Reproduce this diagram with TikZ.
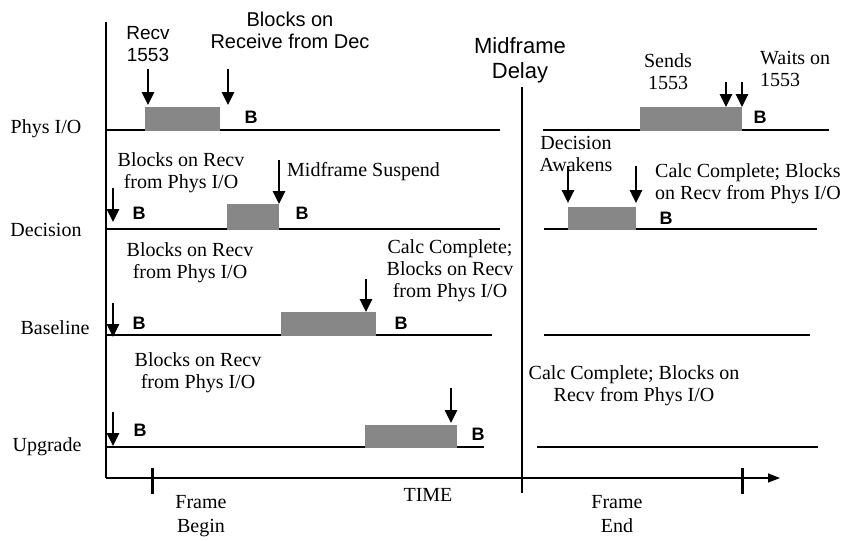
\documentclass[tikz,border=0pt]{standalone}
\usepackage{fontspec}
\setmainfont{Liberation Serif}
\setsansfont{Liberation Sans}
\usetikzlibrary{arrows.meta}
\begin{document}
\begin{tikzpicture}[x=1pt,y=-1pt,
  txt/.style={inner sep=0pt,align=center,font=\fontsize{20}{22}\selectfont},
  stxt/.style={inner sep=0pt,align=center,font=\sffamily\fontsize{20}{22}\selectfont},
  blk/.style={inner sep=0pt,font=\sffamily\bfseries\fontsize{18}{18}\selectfont},
  rowlbl/.style={inner sep=0pt,anchor=base,font=\fontsize{20}{22}\selectfont},
  tl/.style={line width=1.5pt},
  run/.style={fill=black!47,draw=none},
  evt/.style={line width=2.8pt,-{Triangle[length=13pt,width=12pt]}},
  tick/.style={line width=3pt}]
\path[use as bounding box] (0,0) rectangle (844,541);

% axes
\draw[tl] (106,22) -- (106,478);
\draw[tl,-{Triangle[length=12pt,width=9pt]}] (106,478) -- (780,478);
\draw[tick] (152,468) -- (152,494);
\draw[tick] (742,468) -- (742,494);
\draw[tl] (522,87) -- (522,493);

% row labels
\node[rowlbl] (lphys) at (46,133) {Phys I/O};
\node[rowlbl] (ldec) at (46,236) {Decision};
\node[rowlbl] (lbase) at (55,334) {Baseline};
\node[rowlbl] (lupg) at (47,451) {Upgrade};

% ---------- Phys I/O ----------
\draw[tl] (106,130) -- (500,130);
\draw[tl] (543,130) -- (640,130);
\draw[tl] (742,130) -- (829,130);
\fill[run] (145,107) rectangle (220,130.75);
\fill[run] (640,107) rectangle (742,130.75);
\draw[evt] (148,69) -- (148,105);
\draw[evt] (228,69) -- (228,105);
\draw[evt] (726,82) -- (726,107);
\draw[evt] (742,82) -- (742,107);
\node[blk] (bp1) at (251,117) {B};
\node[blk] (bp2) at (760,117) {B};
\node[stxt,font=\sffamily\fontsize{19}{22}\selectfont] (recv) at (148,44) {Recv\\1553};
\node[stxt] (blkdec) at (290,30) {Blocks on\\Receive from Dec};
\node[stxt,font=\sffamily\fontsize{22}{25}\selectfont] (mid) at (520,60) {Midframe\\Delay};
\node[txt] (sends) at (668,72) {Sends\\1553};
\node[txt,align=left,anchor=west] (waits) at (760,69) {Waits on\\1553};

% ---------- Decision ----------
\draw[tl] (106,229) -- (500,229);
\draw[tl] (544,229) -- (817,229);
\fill[run] (227,204) rectangle (279,229.75);
\fill[run] (568,207) rectangle (636,229.75);
\draw[evt] (113,188) -- (113,222);
\draw[evt] (279,160) -- (279,204);
\draw[evt] (568,166) -- (568,203);
\draw[evt] (636,166) -- (636,203);
\node[blk] (bd1) at (139,213) {B};
\node[blk] (bd2) at (302,213) {B};
\node[blk] (bd3) at (666,218) {B};
\node[txt] (dtxt1) at (181,173) {Blocks on Recv\\from Phys I/O};
\node[txt,anchor=west] (dsusp) at (287,172) {Midframe Suspend};
\node[txt] (dwake) at (576,154) {Decision\\Awakens};
\node[txt,align=left,anchor=west] (dcalc) at (655,184) {Calc Complete; Blocks\\on Recv from Phys I/O};

% ---------- Baseline ----------
\draw[tl] (106,335) -- (492,335);
\draw[tl] (544,335) -- (810,335);
\fill[run] (281,312) rectangle (376,335.75);
\draw[evt] (113,303) -- (113,337);
\draw[evt] (366,279) -- (366,312);
\node[blk] (bb1) at (139,323) {B};
\node[blk] (bb2) at (401,323) {B};
\node[txt] (btxt1) at (190,263) {Blocks on Recv\\from Phys I/O};
\node[txt] (btxt2) at (450,271) {Calc Complete;\\Blocks on Recv\\from Phys I/O};

% ---------- Upgrade ----------
\draw[tl] (106,447) -- (365,447);
\draw[tl] (453,447) -- (484,447);
\draw[tl] (537,447) -- (818,447);
\fill[run] (365,425) rectangle (457,447.75);
\draw[evt] (113,412) -- (113,446);
\draw[evt] (451,388) -- (451,423);
\node[blk] (bu1) at (140,430) {B};
\node[blk] (bu2) at (478,434) {B};
\node[txt] (utxt1) at (198,373) {Blocks on Recv\\from Phys I/O};
\node[txt] (utxt2) at (634,386) {Calc Complete; Blocks on\\Recv from Phys I/O};

% time axis labels
\node[txt,font=\fontsize{20}{24}\selectfont] (fbeg) at (201,516) {Frame\\Begin};
\node[txt] (time) at (428,495) {TIME};
\node[txt,font=\fontsize{20}{24}\selectfont] (fend) at (617,514) {Frame\\End};
\end{tikzpicture}
\end{document}
